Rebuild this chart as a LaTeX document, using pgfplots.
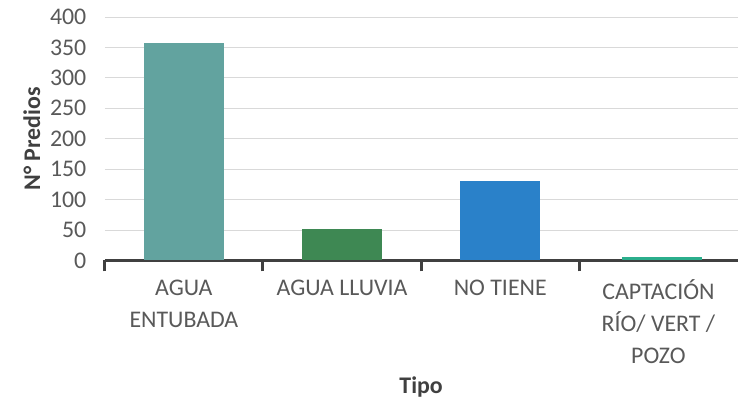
\documentclass[border=0pt]{standalone}
\usepackage{pgfplots}
\pgfplotsset{compat=1.18}
\usepackage{fontspec}
\setmainfont{Carlito}

\definecolor{txtc}{HTML}{595959}
\definecolor{titc}{HTML}{404040}
\definecolor{gridc}{HTML}{D9D9D9}
\definecolor{axisc}{HTML}{404040}
\definecolor{barA}{HTML}{62A39F}
\definecolor{barB}{HTML}{3E8853}
\definecolor{barC}{HTML}{2A81C9}
\definecolor{barD}{HTML}{2BAE8C}

\begin{document}
\begin{tikzpicture}
\begin{axis}[
    at={(105bp,142bp)}, anchor=south west,
    scale only axis, width=634bp, height=244bp,
    xmin=-0.5, xmax=3.5, ymin=0, ymax=400,
    ytick={0,50,...,400},
    ymajorgrids, grid style={draw=gridc, line width=0.9bp},
    axis x line*=bottom, axis y line*=left,
    x axis line style={draw=axisc, line width=3bp, -},
    y axis line style={draw=none},
    ytick style={draw=none},
    % category boundary ticks
    xtick={-0.5,0.5,1.5,2.5}, xticklabels={},
    xtick style={draw=axisc, line width=3bp},
    major tick length=11bp, tick align=outside,
    % category names
    extra x ticks={0,1,2,3},
    extra x tick labels={{AGUA\\ENTUBADA},{AGUA LLUVIA},{NO TIENE},{CAPTACIÓN\\RÍO/ VERT /\\POZO}},
    extra x tick style={major tick length=0pt, tick style={draw=none}},
    xticklabel style={align=center, text=txtc, font=\fontsize{24}{32}\selectfont, anchor=north, yshift=-16bp},
    yticklabel style={text=txtc, font=\fontsize{24}{29}\selectfont, xshift=-4bp},
    /pgf/number format/assume math mode=true,
    every axis y label/.style={at={(axis description cs:-0.1151,0.5)}, rotate=90, anchor=center},
    every axis x label/.style={at={(axis description cs:0.5,-0.5205)}, anchor=center},
    ylabel={N° Predios},
    xlabel={Tipo},
    label style={font=\bfseries\fontsize{24}{29}\selectfont, text=titc},
    ybar, bar width=80bp, bar shift=0pt,
    clip=false,
]
\addplot[fill=barA, draw=none] coordinates {(0,357)};
\addplot[fill=barB, draw=none] coordinates {(1,51)};
\addplot[fill=barC, draw=none] coordinates {(2,131)};
\addplot[fill=barD, draw=none] coordinates {(3.02,6)};
\end{axis}
\path[use as bounding box] (0,0) rectangle (739bp,403bp);
\end{tikzpicture}
\end{document}
